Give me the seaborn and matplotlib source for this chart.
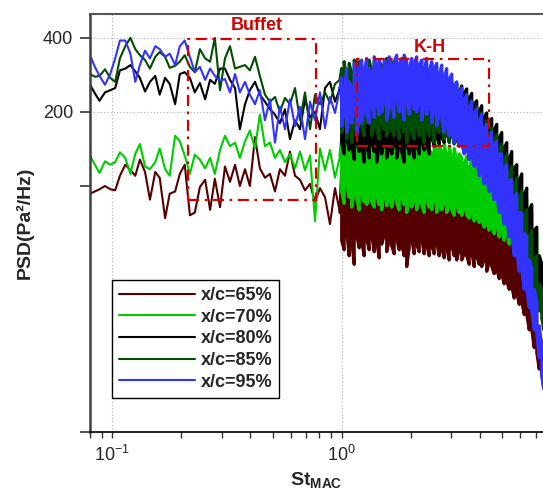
import numpy as np
import pandas as pd
import matplotlib
matplotlib.use("Agg")
import matplotlib.pyplot as plt
import seaborn as sns
from matplotlib.patches import Rectangle
from matplotlib.ticker import FixedLocator, NullFormatter, LogLocator

# ---------------- data ----------------
# low-frequency part: individual spectral values
st_low = [0.080, 0.084, 0.088, 0.093, 0.098, 0.103, 0.108, 0.114, 0.120, 0.126,
          0.132, 0.139, 0.146, 0.154, 0.161, 0.170, 0.178, 0.188, 0.197, 0.207,
          0.218, 0.229, 0.241, 0.254, 0.267, 0.280, 0.295, 0.310, 0.326, 0.343,
          0.360, 0.379, 0.398, 0.419, 0.440, 0.463, 0.487, 0.512, 0.538, 0.566,
          0.595, 0.626, 0.658, 0.692, 0.728, 0.765, 0.804, 0.846, 0.889, 0.935,
          0.983]

psd_65_low = [93, 95, 97, 100, 97, 96, 110, 122, 116, 110,
              128, 114, 88, 114, 108, 74, 93, 95, 112, 122,
              76, 78, 99, 106, 80, 107, 82, 120, 104, 122,
              100, 117, 100, 158, 118, 108, 112, 95, 117, 110,
              138, 110, 106, 96, 102, 86, 98, 90, 70, 98,
              78]
psd_70_low = [133, 122, 113, 126, 122, 125, 137, 130, 112, 135,
              148, 120, 117, 125, 142, 117, 110, 160, 152, 133,
              112, 134, 128, 118, 130, 112, 140, 160, 145, 150,
              130, 152, 168, 142, 195, 145, 150, 130, 140, 125,
              135, 118, 138, 116, 133, 72, 142, 116, 140, 108,
              132]
psd_80_low = [258, 238, 222, 240, 245, 250, 295, 300, 310, 292,
              275, 242, 265, 280, 235, 275, 260, 215, 285, 290,
              275, 240, 262, 225, 270, 260, 300, 300, 270, 250,
              170, 215, 245, 265, 235, 220, 205, 195, 180, 205,
              155, 185, 170, 225, 190, 200, 170, 250, 265, 220,
              250]
psd_85_low = [285, 278, 280, 298, 275, 265, 330, 370, 400, 360,
              340, 325, 300, 335, 350, 335, 302, 308, 320, 340,
              305, 290, 360, 330, 320, 400, 245, 330, 370, 300,
              305, 310, 295, 335, 280, 235, 220, 230, 200, 228,
              215, 250, 185, 240, 170, 235, 215, 240, 218, 260,
              270]
psd_95_low = [340, 305, 280, 258, 285, 330, 390, 390, 345, 265,
              310, 355, 330, 370, 360, 335, 345, 310, 370, 390,
              335, 290, 305, 270, 300, 280, 268, 272, 240, 285,
              240, 265, 235, 215, 245, 185, 225, 150, 210, 170,
              225, 175, 210, 155, 220, 185, 240, 172, 230, 198,
              250]

# high-frequency part: the spectra are very dense, read as max / min per St bin
st_dense = [1.000, 1.025, 1.051, 1.078, 1.106, 1.134, 1.163, 1.192, 1.222, 1.253,
            1.285, 1.318, 1.352, 1.386, 1.421, 1.457, 1.494, 1.532, 1.571, 1.611,
            1.652, 1.694, 1.737, 1.781, 1.826, 1.872, 1.920, 1.969, 2.019, 2.070,
            2.123, 2.177, 2.232, 2.289, 2.347, 2.407, 2.468, 2.531, 2.595, 2.661,
            2.729, 2.798, 2.869, 2.942, 3.017, 3.094, 3.172, 3.253, 3.336, 3.420,
            3.507, 3.596, 3.688, 3.781, 3.878, 3.976, 4.077, 4.181, 4.287, 4.396,
            4.508, 4.623, 4.740, 4.861, 4.984, 5.111, 5.241, 5.374, 5.511, 5.651,
            5.795, 5.942, 6.093, 6.248, 6.407, 6.570, 6.737, 6.908, 7.084, 7.264,
            7.449, 7.600]

psd_65_max = [115, 98, 108, 95, 104, 92, 102, 106, 94, 102,
              96, 104, 92, 102, 95, 106, 93, 102, 97, 92,
              103, 95, 104, 92, 100, 94, 102, 90, 100, 95,
              99, 92, 101, 93, 99, 88, 97, 92, 99, 90,
              97, 90, 98, 88, 95, 90, 88, 95, 86, 92,
              91, 85, 93, 84, 90, 85, 83, 88, 80, 85,
              82, 77, 79, 73, 75, 69, 71, 64, 66, 58,
              59, 52, 53, 46, 46, 40, 39, 33, 30, 25,
              23, 19]
psd_65_min = [60, 55, 66, 52, 60, 48, 63, 56, 60, 52,
              61, 55, 63, 54, 60, 51, 58, 63, 54, 60,
              57, 53, 61, 55, 58, 52, 47, 56, 61, 53,
              58, 54, 61, 53, 58, 52, 57, 53, 59, 52,
              56, 51, 56, 50, 57, 52, 50, 55, 50, 53,
              52, 48, 54, 47, 52, 48, 47, 50, 45, 49,
              47, 44, 46, 42, 44, 40, 41, 38, 39, 35,
              37, 33, 34, 30, 30, 26, 26, 22, 21, 18,
              17, 15]

psd_70_max = [155, 135, 160, 140, 150, 165, 140, 155, 135, 160,
              140, 155, 135, 160, 145, 152, 138, 165, 150, 140,
              155, 160, 140, 152, 135, 158, 145, 138, 160, 148,
              140, 155, 135, 150, 155, 140, 136, 155, 135, 148,
              135, 148, 132, 145, 130, 142, 128, 135, 130, 122,
              132, 118, 128, 115, 122, 112, 122, 108, 118, 106,
              116, 104, 114, 102, 112, 100, 110, 98, 104, 94,
              100, 90, 95, 85, 88, 78, 78, 66, 64, 52,
              48, 42]
psd_70_min = [95, 85, 102, 90, 82, 96, 88, 80, 94, 86,
              84, 94, 86, 82, 92, 84, 80, 92, 83, 88,
              82, 92, 85, 80, 90, 84, 78, 90, 82, 87,
              80, 90, 84, 78, 88, 82, 80, 88, 78, 85,
              80, 86, 78, 85, 80, 76, 83, 78, 76, 81,
              76, 74, 79, 72, 75, 71, 73, 68, 72, 66,
              70, 64, 70, 62, 68, 60, 66, 58, 62, 56,
              60, 54, 56, 50, 52, 46, 47, 42, 42, 37,
              36, 33]

psd_80_max = [240, 210, 250, 220, 245, 205, 235, 250, 215, 240,
              220, 250, 205, 235, 220, 255, 210, 240, 220, 235,
              250, 210, 240, 220, 235, 205, 250, 220, 235, 245,
              220, 250, 225, 240, 215, 250, 230, 255, 230, 250,
              255, 235, 260, 240, 265, 245, 262, 240, 255, 238,
              248, 225, 238, 215, 222, 200, 212, 190, 198, 178,
              188, 168, 178, 155, 165, 142, 150, 128, 138, 118,
              122, 105, 112, 92, 98, 80, 84, 66, 68, 52,
              48, 42]
psd_80_min = [150, 135, 160, 140, 150, 128, 152, 138, 148, 125,
              148, 130, 152, 138, 125, 148, 135, 152, 130, 145,
              135, 152, 130, 148, 138, 125, 150, 135, 148, 130,
              148, 135, 152, 140, 150, 135, 158, 145, 158, 148,
              158, 150, 162, 155, 165, 152, 165, 150, 160, 148,
              155, 142, 150, 138, 142, 128, 135, 122, 128, 112,
              120, 106, 112, 98, 104, 90, 95, 82, 86, 74,
              78, 68, 70, 60, 62, 53, 54, 45, 46, 38,
              36, 33]

psd_85_max = [300, 320, 270, 315, 285, 325, 290, 320, 310, 280,
              315, 325, 290, 320, 300, 320, 310, 285, 330, 300,
              320, 295, 320, 285, 315, 330, 300, 290, 320, 295,
              315, 280, 320, 290, 310, 275, 315, 270, 305, 265,
              290, 260, 280, 250, 270, 245, 260, 235, 250, 220,
              235, 205, 222, 195, 210, 182, 198, 170, 185, 160,
              172, 150, 162, 138, 148, 125, 135, 112, 120, 98,
              108, 88, 95, 75, 80, 62, 66, 50, 52, 40,
              38, 32]
psd_85_min = [165, 185, 155, 180, 150, 190, 165, 180, 175, 160,
              180, 190, 160, 185, 170, 155, 185, 170, 160, 190,
              170, 160, 185, 155, 180, 165, 150, 180, 165, 155,
              180, 160, 175, 150, 175, 160, 180, 150, 170, 165,
              170, 155, 168, 150, 165, 148, 155, 145, 150, 138,
              145, 132, 140, 125, 132, 118, 125, 112, 118, 104,
              110, 98, 102, 90, 94, 82, 86, 74, 76, 66,
              68, 58, 60, 50, 52, 44, 44, 37, 36, 31,
              29, 26]

psd_95_max = [275, 240, 300, 265, 250, 315, 280, 300, 325, 290,
              330, 300, 290, 335, 305, 325, 285, 325, 310, 335,
              300, 320, 340, 310, 330, 340, 320, 300, 330, 315,
              335, 310, 325, 295, 330, 290, 320, 300, 315, 280,
              310, 275, 300, 270, 285, 255, 265, 240, 250, 225,
              235, 205, 220, 195, 205, 180, 195, 170, 178, 158,
              165, 145, 152, 135, 135, 118, 122, 105, 106, 90,
              93, 78, 78, 64, 62, 50, 46, 38, 34, 27,
              22, 17]
psd_95_min = [175, 200, 165, 190, 180, 205, 160, 195, 180, 210,
              195, 180, 215, 190, 220, 195, 200, 225, 185, 210,
              220, 190, 230, 200, 215, 185, 225, 195, 220, 205,
              200, 220, 185, 215, 195, 210, 180, 205, 175, 195,
              190, 165, 185, 160, 170, 150, 165, 145, 150, 135,
              145, 128, 135, 120, 128, 110, 118, 102, 108, 95,
              100, 88, 92, 78, 82, 70, 74, 62, 63, 52,
              55, 45, 46, 38, 38, 32, 31, 26, 25, 20,
              17, 15]

series_labels = ["x/c=65%", "x/c=70%", "x/c=80%", "x/c=85%", "x/c=95%"]
series_colors = ["#550000", "#00cc00", "#000000", "#004d00", "#3333ff"]

# annotation boxes (St_min, St_max, PSD_min, PSD_max) and labels
buffet_box = (0.214, 0.770, 87.5, 394)
kh_box = (1.169, 4.40, 145, 327)
buffet_label = ("Buffet", 0.425, 450)
kh_label = ("K-H", 2.43, 365)

y_ticks = [10, 100, 200, 400]
y_ticklabels = ["", "", "200", "400"]
y_grid = [200, 400]
x_grid = [0.1, 1.0]

# ---------------- figure ----------------
sns.set_style("ticks")
plt.rcParams["font.family"] = ["Liberation Sans", "DejaVu Sans"]
plt.rcParams["mathtext.fontset"] = "custom"
plt.rcParams["mathtext.rm"] = "Liberation Sans"
plt.rcParams["mathtext.bf"] = "Liberation Sans:bold"
plt.rcParams["mathtext.it"] = "Liberation Sans:italic"

fig = plt.figure(figsize=(5.43, 4.91), dpi=100)
ax = fig.add_axes([90 / 543, 59 / 491, 453 / 543, 418 / 491])

low_vals = [psd_65_low, psd_70_low, psd_80_low, psd_85_low, psd_95_low]
max_vals = [psd_65_max, psd_70_max, psd_80_max, psd_85_max, psd_95_max]
min_vals = [psd_65_min, psd_70_min, psd_80_min, psd_85_min, psd_95_min]

low_rows, dense_rows = [], []
for lab, lo, mx, mn in zip(series_labels, low_vals, max_vals, min_vals):
    for s, v in zip(st_low, lo):
        low_rows.append((lab, s, v))
    # join the dense trace to the low-frequency line
    dense_rows.append((lab, st_low[-1], lo[-1]))
    # dense part: trace max/min of each St bin (alternating) so the band fills
    for i, (s, a, b) in enumerate(zip(st_dense, mx, mn)):
        pair = (a, b) if i % 2 == 0 else (b, a)
        for v in pair:
            dense_rows.append((lab, s, v))
df_low = pd.DataFrame(low_rows, columns=["loc", "St", "PSD"])
df_dense = pd.DataFrame(dense_rows, columns=["loc", "St", "PSD"])
pal = dict(zip(series_labels, series_colors))

sns.lineplot(data=df_low, x="St", y="PSD", hue="loc", hue_order=series_labels,
             palette=pal, estimator=None, sort=False, linewidth=1.5,
             legend=False, ax=ax)
sns.lineplot(data=df_dense, x="St", y="PSD", hue="loc", hue_order=series_labels,
             palette=pal, estimator=None, sort=False, linewidth=2.3,
             legend=False, ax=ax)

ax.set_xscale("log")
ax.set_yscale("log")
ax.set_xlim(0.08, 7.54)
ax.set_ylim(10, 500)

# grid lines (dotted)
for gx in x_grid:
    ax.axvline(gx, color="#b0b0b0", ls=(0, (1, 2)), lw=0.8, zorder=0)
for gy in y_grid:
    ax.axhline(gy, color="#b0b0b0", ls=(0, (1, 2)), lw=0.8, zorder=0)

# ticks
ax.yaxis.set_major_locator(FixedLocator(y_ticks))
ax.set_yticklabels(y_ticklabels)
ax.yaxis.set_minor_locator(FixedLocator([]))
ax.xaxis.set_major_locator(LogLocator(base=10))
ax.xaxis.set_minor_locator(LogLocator(base=10, subs=np.arange(2, 10)))
ax.xaxis.set_minor_formatter(NullFormatter())
ax.tick_params(axis="y", which="major", length=7, width=1.2, direction="out",
               labelsize=13, pad=5, color="#333333")
ax.tick_params(axis="x", which="both", length=4, width=1.0, direction="out",
               labelsize=13, pad=5, color="#333333")

# spines
ax.spines["right"].set_visible(False)
ax.spines["left"].set_color("#404040")
ax.spines["left"].set_linewidth(1.8)
ax.spines["top"].set_color("#555555")
ax.spines["top"].set_linewidth(1.5)
ax.spines["bottom"].set_color("#111111")
ax.spines["bottom"].set_linewidth(1.3)

ax.set_xlabel(r"$\mathbf{St}_{\mathbf{MAC}}$", fontsize=14, labelpad=4)
ax.set_ylabel("PSD(Pa²/Hz)", fontsize=14, fontweight="bold", labelpad=7)

# annotation boxes
red = "#d40000"
for (x0, x1, y0, y1) in (buffet_box, kh_box):
    ax.add_patch(Rectangle((x0, y0), x1 - x0, y1 - y0, fill=False,
                           edgecolor=red, lw=1.6,
                           ls=(0, (5, 2.5, 1.2, 2.5)), zorder=10))
for (txt, tx, ty) in (buffet_label, kh_label):
    ax.text(tx, ty, txt, color=red, fontsize=13, fontweight="bold",
            ha="center", va="center", zorder=11)

# legend
handles = ax.get_lines()[:len(series_labels)]
leg = ax.legend(handles, series_labels, loc="lower left",
                bbox_to_anchor=(22 / 453, 34 / 418), borderaxespad=0,
                frameon=True, fancybox=False, framealpha=1,
                edgecolor="black", prop={"size": 13, "weight": "bold"},
                handlelength=4.2, handletextpad=0.3, labelspacing=0.26,
                borderpad=0.4)
leg.get_frame().set_linewidth(1.0)

fig.savefig("out.png", dpi=100)
